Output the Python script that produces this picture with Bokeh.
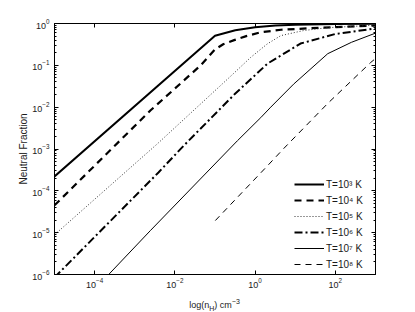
from bokeh.plotting import figure
from bokeh.layouts import column
from bokeh.models import (LogAxis, FixedTicker, Legend, LegendItem, Div,
                          CustomJSTickFormatter, Range1d)
from bokeh.embed import file_html
from bokeh.resources import INLINE

FONT = "Liberation Sans"

# ---- data ----
x_ticks = [1e-4, 1e-2, 1e0, 1e2]
y_ticks = [1e-6, 1e-5, 1e-4, 1e-3, 1e-2, 1e-1, 1e0]
y_minor = [m * 10.0 ** e for e in range(-6, 0) for m in range(2, 10)]

labels = ["T=10³ K", "T=10⁴ K", "T=10⁵ K", "T=10⁶ K", "T=10⁷ K", "T=10⁸ K"]

n_T3 = [1e-5, 1e-1, 0.32, 1.0, 3.2, 10, 100, 1000]
f_T3 = [2.2e-4, 0.51, 0.69, 0.81, 0.89, 0.93, 0.97, 0.99]

n_T4 = [1e-5, 2.45e-3, 4.4e-2, 0.10, 0.16, 0.30, 0.60, 1.38, 4.4, 42.7, 1000]
f_T4 = [4.5e-5, 8.3e-3, 0.10, 0.24, 0.32, 0.40, 0.50, 0.617, 0.708, 0.794, 0.89]

n_T5 = [1e-5, 3.63e-3, 0.251, 0.776, 2.0, 4.37, 15.8, 63, 1000]
f_T5 = [8.9e-6, 1.32e-3, 0.056, 0.155, 0.324, 0.513, 0.676, 0.794, 0.912]

n_T6 = [1e-5, 3.9e-3, 1.66e-2, 0.316, 2.04, 13.5, 100, 1000]
f_T6 = [8.5e-7, 2.75e-4, 1.2e-3, 0.0209, 0.11, 0.331, 0.562, 0.759]

n_T7 = [2.24e-4, 2.45e-3, 0.363, 1.38, 2.45, 9.1, 64.6, 251, 1000]
f_T7 = [1e-6, 1.12e-5, 1.58e-3, 5.62e-3, 1e-2, 0.0355, 0.19, 0.355, 0.589]

n_T8 = [0.102, 2.04, 5.13, 64.6, 759, 1000]
f_T8 = [1.95e-5, 3.98e-4, 1.02e-3, 1.23e-2, 0.117, 0.145]

x_label_html = ('log(n<sub style="font-size:7px">H</sub>) cm'
                '<sup style="font-size:7px">−3</sup>')
y_label = "Neutral Fraction"

# ---- figure ----
p = figure(width=415, height=290, x_axis_type="log", y_axis_type="log",
           x_range=Range1d(1e-5, 1e3), y_range=Range1d(1e-6, 1.0),
           output_backend="svg", toolbar_location=None,
           min_border_left=54, min_border_right=40,
           min_border_top=23, min_border_bottom=16)
p.xgrid.visible = False
p.ygrid.visible = False
p.outline_line_color = "black"
p.background_fill_color = "white"
p.border_fill_color = "white"


def style(ax):
    ax.axis_line_color = "black"
    ax.axis_line_width = 1
    ax.major_tick_in = 4
    ax.major_tick_out = 0
    ax.minor_tick_in = 2
    ax.minor_tick_out = 0
    ax.major_tick_line_color = "black"
    ax.minor_tick_line_color = "black"
    ax.major_label_text_font = FONT
    ax.major_label_text_font_size = "9px"
    ax.major_label_text_color = "#1a1a1a"


xa = p.xaxis[0]
ya = p.yaxis[0]
xa.ticker = FixedTicker(ticks=x_ticks, minor_ticks=[])
ya.ticker = FixedTicker(ticks=y_ticks, minor_ticks=y_minor)
style(xa)
style(ya)
xa.major_label_standoff = 3
ya.major_label_standoff = 5
ya.axis_label = y_label
ya.axis_label_text_font = FONT
ya.axis_label_text_font_size = "10px"
ya.axis_label_text_font_style = "normal"
ya.axis_label_text_color = "#1a1a1a"
ya.axis_label_standoff = 0

top = LogAxis(ticker=FixedTicker(ticks=x_ticks, minor_ticks=[]),
              formatter=CustomJSTickFormatter(code="return ''"))
right = LogAxis(ticker=FixedTicker(ticks=y_ticks, minor_ticks=y_minor),
                formatter=CustomJSTickFormatter(code="return ''"))
style(top)
style(right)
top.major_label_standoff = 0
right.major_label_standoff = 0
p.add_layout(top, "above")
p.add_layout(right, "right")

r3 = p.line(n_T3, f_T3, line_color="black", line_width=2)
r4 = p.line(n_T4, f_T4, line_color="black", line_width=2.2, line_dash="7 5")
r5 = p.line(n_T5, f_T5, line_color="#333333", line_width=1, line_dash="1 2")
r6 = p.line(n_T6, f_T6, line_color="black", line_width=2, line_dash="8 3 2 3")
r7 = p.line(n_T7, f_T7, line_color="black", line_width=1)
r8 = p.line(n_T8, f_T8, line_color="black", line_width=1, line_dash="6 5")

items = [LegendItem(label=lab, renderers=[r])
         for lab, r in zip(labels, [r3, r4, r5, r6, r7, r8])]
legend = Legend(items=items, location=(240, 4))
legend.border_line_color = None
legend.background_fill_alpha = 0
legend.glyph_width = 30
legend.glyph_height = 12
legend.label_height = 12
legend.spacing = 4
legend.padding = 4
legend.margin = 0
legend.label_standoff = 2
legend.label_text_font = FONT
legend.label_text_font_size = "10px"
legend.label_text_color = "#1a1a1a"
p.add_layout(legend)

# x-axis label (with subscript and superscript) as real HTML text
xlab = Div(text=x_label_html, width=321, height=22, margin=(0, 0, 0, 54),
           styles={"font-family": FONT, "font-size": "9px", "color": "#1a1a1a",
                   "text-align": "center", "line-height": "12px",
                   "padding-top": "6px", "box-sizing": "border-box"})

layout = column(p, xlab, spacing=0)
open("out.html", "w").write(file_html(layout, INLINE))
